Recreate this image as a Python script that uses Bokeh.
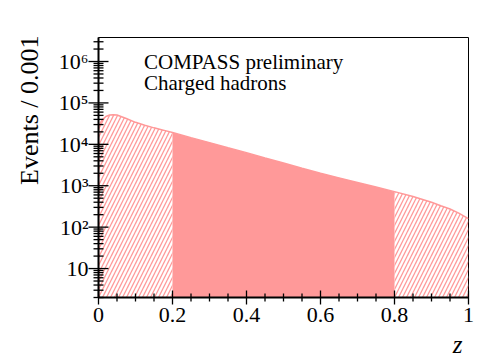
import math
from bokeh.plotting import figure
from bokeh.models import Range1d, FixedTicker, Label, Title
from bokeh.embed import file_html
from bokeh.resources import INLINE

# ---- data ----
z = [0.000, 0.005, 0.010, 0.020, 0.030, 0.040, 0.050, 0.075, 0.100, 0.125,
     0.150, 0.175, 0.200, 0.250, 0.300, 0.350, 0.400, 0.450, 0.500, 0.550,
     0.600, 0.650, 0.700, 0.750, 0.800, 0.850, 0.900, 0.925, 0.950, 0.975,
     0.990, 1.000]
events = [26000, 33000, 39000, 47000, 51000, 52000, 51000, 42000, 34000, 29000,
          25000, 22000, 19300, 14500, 11000, 8300, 6300, 4700, 3550, 2650,
          2000, 1550, 1200, 930, 720, 550, 400, 330, 275, 215,
          180, 160]
cut_low = 0.2
cut_high = 0.8
x_ticks = [0, 0.2, 0.4, 0.6, 0.8, 1]
x_tick_labels = ["0", "0.2", "0.4", "0.6", "0.8", "1"]
y_ticks = [10, 100, 1000, 10000, 100000, 1000000]
y_tick_labels = ["10", "10\u00b2", "10\u00b3", "10\u2074", "10\u2075", "10\u2076"]

PINK = "#ff9999"
FONT = "Liberation Serif"
BASE = 1.0
Y0, Y1 = 2.0, 3.8e6

p = figure(width=488, height=362, y_axis_type="log",
           x_range=Range1d(0, 1), y_range=Range1d(Y0, Y1),
           output_backend="svg", toolbar_location=None,
           min_border_left=98, min_border_right=20,
           min_border_top=37, min_border_bottom=64)
p.background_fill_color = "white"
p.border_fill_color = "white"
p.outline_line_color = "black"
p.outline_line_width = 1
p.xgrid.visible = False
p.ygrid.visible = False

lo = [i for i, v in enumerate(z) if v <= cut_low]
mid = [i for i, v in enumerate(z) if cut_low <= v <= cut_high]
hi = [i for i, v in enumerate(z) if v >= cut_high]

for idx, hatched in ((lo, True), (mid, False), (hi, True)):
    xs = [z[i] for i in idx]
    ys = [events[i] for i in idx]
    if hatched:
        p.varea(x=xs, y1=[BASE] * len(xs), y2=ys, fill_alpha=0,
                hatch_pattern="/", hatch_color=PINK, hatch_scale=8,
                hatch_weight=1.3)
    else:
        p.varea(x=xs, y1=[BASE] * len(xs), y2=ys, fill_color=PINK)

p.line(x=[z[0]] + z, y=[BASE] + events, line_color=PINK, line_width=1.5)

# axes
minor_y = [m * 10 ** k for k in range(0, 7) for m in range(2, 10)]
minor_y = [v for v in minor_y if Y0 <= v <= Y1]
p.yaxis.ticker = FixedTicker(ticks=y_ticks, minor_ticks=minor_y)
p.yaxis.major_label_overrides = dict(zip(y_ticks, y_tick_labels))
minor_x = [round(0.05 * k, 2) for k in range(21) if k % 4 != 0]
p.xaxis.ticker = FixedTicker(ticks=x_ticks, minor_ticks=minor_x)
p.xaxis.major_label_overrides = dict(zip(x_ticks, x_tick_labels))

for ax in (p.xaxis[0], p.yaxis[0]):
    ax.axis_line_color = "black"
    ax.axis_line_width = 2
    ax.major_tick_in = 0
    ax.minor_tick_in = 0
    ax.major_tick_out = 0
    ax.minor_tick_out = 0
    ax.major_label_text_font = FONT
    ax.major_label_text_font_size = "22px"
    ax.major_label_text_color = "black"
    ax.major_label_standoff = 10

# inward ticks: thin rectangles centred on the frame edges
def ticks_y(vals, length):
    r = p.rect(x=[0.0] * len(vals), y=vals, width=2 * length, height=1.3,
               width_units="screen", height_units="screen",
               fill_color="black", line_color=None)
    r.level = "overlay"

def ticks_x(vals, length):
    r = p.rect(x=vals, y=[Y0] * len(vals), width=1.3, height=2 * length,
               width_units="screen", height_units="screen",
               fill_color="black", line_color=None)
    r.level = "overlay"

ticks_y(y_ticks, 10)
ticks_y(minor_y, 5)
ticks_x(x_ticks, 7)
ticks_x(minor_x, 4)

p.add_layout(Title(text="Events / 0.001", align="right",
                   text_font=FONT, text_font_size="26px",
                   text_font_style="normal", text_color="black",
                   standoff=23, offset=-2), "left")
p.add_layout(Title(text="z", align="right",
                   text_font=FONT, text_font_size="25px",
                   text_font_style="italic", text_color="black",
                   standoff=9, offset=6), "below")

p.add_layout(Label(x=0.123, y=9.6e5, text="COMPASS preliminary",
                   text_font=FONT, text_font_size="21px",
                   text_baseline="alphabetic", text_color="black"))
p.add_layout(Label(x=0.123, y=3.1e5, text="Charged hadrons",
                   text_font=FONT, text_font_size="21px",
                   text_baseline="alphabetic", text_color="black"))

open("out.html", "w").write(file_html(p, INLINE))
